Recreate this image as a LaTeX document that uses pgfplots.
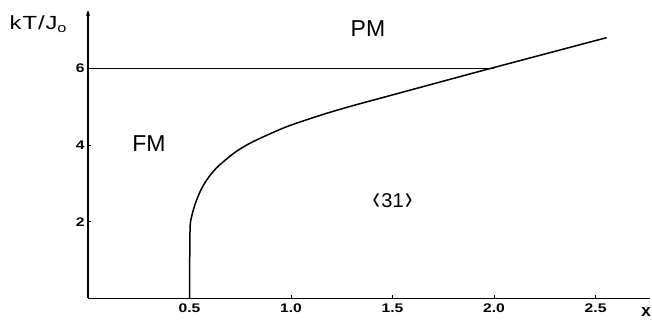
\documentclass[border=0pt]{standalone}
\usepackage{fontspec}
\setmainfont{Liberation Sans}
\newfontfamily\wide[FakeStretch=1.25]{Liberation Sans}
\usepackage{graphicx}
\usepackage{pgfplots}
\pgfplotsset{compat=1.18}
\usetikzlibrary{arrows.meta}
\begin{document}
\begin{tikzpicture}
\useasboundingbox (-88pt,-21.5pt) rectangle (564pt,298.5pt);
\begin{axis}[
  at={(0,0)}, anchor=origin,
  scale only axis,
  width=562pt, height=288.5pt,
  xmin=0, xmax=2.768, ymin=0, ymax=7.52,
  axis lines=left,
  x axis line style={-, line width=1.2pt},
  y axis line style={-{Stealth[length=6pt,width=4pt]}, line width=1.2pt},
  xtick={0.5,1.0,1.5,2.0,2.5},
  xticklabels={0.5,1.0,1.5,2.0,2.5},
  ytick={2,4,6},
  yticklabels={2,4,6},
  tick align=inside,
  major tick length=3pt,
  tick style={line width=0.8pt, black},
  ticklabel style={font=\wide\bfseries\fontsize{12.5}{12.5}\selectfont},
  xticklabel style={yshift=-1.5pt},
  clip=false,
]
\addplot[black, line width=1.1pt] coordinates {(0,6) (2.0,6)};
\addplot[black, line width=1.5pt, smooth, tension=0.5] coordinates {
(0.500,0) (0.501,1.0) (0.503,1.87) (0.510,2.13) (0.527,2.45) (0.550,2.76)
(0.576,3.02) (0.606,3.24) (0.642,3.45) (0.724,3.81) (0.806,4.07) (0.921,4.35) (1.000,4.52)
(1.159,4.80) (1.300,5.02) (1.488,5.29) (1.816,5.76) (2.020,6.05) (2.555,6.80)
};
\node[font=\fontsize{23}{23}\selectfont] at (axis cs:1.379,7.03) {PM};
\node[font=\fontsize{23}{23}\selectfont] at (axis cs:0.30,4.05) {FM};
\node[font=\fontsize{20}{20}\selectfont] at (axis cs:1.50,2.53) {\raisebox{-0.1em}{\scalebox{1.1}[1.7]{‹}}\kern1.5pt31\kern1.5pt\raisebox{-0.1em}{\scalebox{1.1}[1.7]{›}}};
\node[font=\wide\fontsize{19}{19}\selectfont, anchor=base west, inner sep=0pt] at (axis description cs:-0.1398,0.934) {k\kern1pt T\kern1pt/\kern1pt J\raisebox{-0.35ex}{\fontsize{13}{13}\selectfont o}};
\node[font=\bfseries\fontsize{17}{17}\selectfont, anchor=base east, inner sep=0pt] at (axis description cs:1.002,-0.064) {x};
\end{axis}
\end{tikzpicture}
\end{document}
